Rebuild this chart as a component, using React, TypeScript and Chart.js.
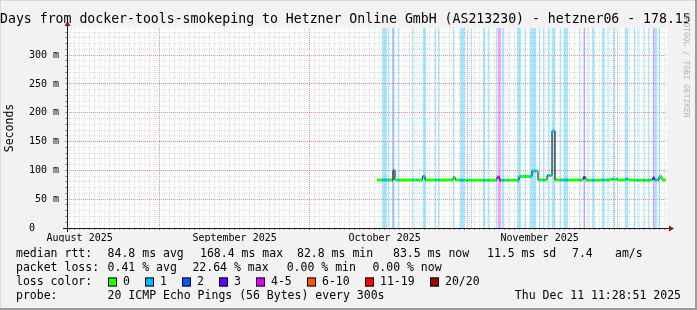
import React, { useEffect, useRef } from 'react';
import { Chart, registerables } from 'chart.js';

Chart.register(...registerables);

// ---------- data ----------
// x values are days since 2025-08-01 00:00 (graph spans 120 days ending Thu Dec 11 11:28:51 2025)
const X_MIN = 12.48;
const X_MAX = 132.48;
const Y_MAX = 347; // milliseconds

const monthStartDays = [31, 61, 92, 122];
const monthLabelDays = [15, 46, 76, 107];
const monthLabels = ['August 2025', 'September 2025', 'October 2025', 'November 2025'];

const yLabelValues = [0, 50, 100, 150, 200, 250, 300];
const yLabels = ['0', '50 m', '100 m', '150 m', '200 m', '250 m', '300 m'];

// median rtt, step series: value holds from the given day until the next one (ms)
const medianDays = [74.48, 77.68, 78.08, 83.58, 84.08, 89.68, 90.18, 91.08, 98.48, 98.98, 102.88, 105.48, 106.68, 108.48, 109.48, 110.08, 115.68, 116.28, 118.88, 121.08, 122.68, 124.08, 124.88, 126.08, 128.98, 129.58, 129.98, 130.88, 131.48];
const medianValues = [83.4, 99.5, 83.3, 89.5, 83.3, 87.0, 83.3, 82.9, 88.5, 83.0, 89.5, 99.0, 83.3, 91.0, 168.4, 83.3, 87.5, 82.9, 83.3, 84.6, 83.3, 84.6, 83.3, 82.9, 83.3, 86.5, 83.3, 89.0, 83.5];
const medianEndDay = 132.28;

// packet loss events: start day, end day, loss colour class
const lossStart = [75.48, 76.68, 77.48, 78.58, 81.48, 82.38, 83.58, 86.08, 86.68, 89.58, 91.08, 92.38, 93.28, 95.68, 96.58, 98.28, 98.58, 99.48, 100.58, 102.48, 104.08, 105.08, 106.88, 107.68, 108.58, 109.38, 111.08, 111.78, 114.94, 115.74, 116.54, 117.48, 119.42, 120.54, 121.62, 122.42, 124.08, 125.88, 126.54, 127.74, 128.62, 129.62, 130.02, 130.74];
const lossEnd = [76.48, 76.88, 77.98, 78.88, 81.78, 82.58, 84.28, 86.38, 86.98, 89.88, 91.88, 92.68, 93.48, 96.08, 96.88, 98.58, 99.28, 99.88, 100.78, 103.28, 104.28, 106.38, 107.08, 107.98, 108.98, 110.18, 111.38, 112.68, 115.22, 116.14, 116.82, 118.02, 120.02, 120.82, 121.88, 122.68, 124.74, 126.08, 126.82, 128.02, 128.94, 130.02, 130.54, 131.08];
const lossClass = [1, 1, 2, 1, 1, 1, 1, 1, 1, 1, 1, 1, 1, 1, 1, 1, 4, 1, 1, 1, 1, 1, 1, 1, 1, 1, 1, 1, 1, 3, 1, 1, 1, 1, 1, 1, 1, 1, 1, 1, 1, 3, 1, 1];

const lossColors = ['#26ff00', '#00b8ff', '#0059ff', '#5e00ff', '#dd00ff', '#ff5500', '#ff0000', '#a10000'];
const lossLabels = ['0', '1', '2', '3', '4-5', '6-10', '11-19', '20/20'];

const TITLE = 'Days from docker-tools-smokeping to Hetzner Online GmbH (AS213230) - hetzner06 - 178.15';
const rttStats = ['84.8 ms avg', '168.4 ms max', '82.8 ms min', '83.5 ms now', '11.5 ms sd', '7.4', 'am/s'];
const lossStats = ['0.41 % avg', '22.64 % max', '0.00 % min', '0.00 % now'];
const PROBE = '20 ICMP Echo Pings (56 Bytes) every 300s';
const STAMP = 'Thu Dec 11 11:28:51 2025';
const WATERMARK = 'RRDTOOL / TOBI OETIKER';

// ---------- layout / style ----------
const W = 697;
const H = 310;
const FONT = "'DejaVu Sans Mono', monospace";
const GRID_MINOR = 'rgba(150,150,150,0.28)';
const GRID_MAJOR = 'rgba(235,40,40,0.5)';

function withAlpha(hex: string, a: number) {
  const n = parseInt(hex.slice(1), 16);
  return `rgba(${(n >> 16) & 255},${(n >> 8) & 255},${n & 255},${a})`;
}

function medianAt(d: number) {
  let v = medianValues[0];
  for (let i = 0; i < medianDays.length; i++) if (medianDays[i] <= d) v = medianValues[i];
  return v;
}
function lossAt(d: number) {
  for (let i = 0; i < lossStart.length; i++) if (lossStart[i] <= d && d < lossEnd[i]) return lossClass[i];
  return 0;
}

const rrdPlugin = {
  id: 'rrdframe',
  beforeDraw(chart: any) {
    const { ctx, chartArea: a } = chart;
    ctx.save();
    ctx.fillStyle = '#f2f2f2';
    ctx.fillRect(0, 0, W, H);
    ctx.fillStyle = '#dadada';
    ctx.fillRect(0, 0, W, 1);
    ctx.fillRect(0, 0, 1, H);
    ctx.fillStyle = '#9c9c9c';
    ctx.fillRect(0, H - 2, W, 2);
    ctx.fillRect(W - 2, 0, 2, H);
    ctx.fillStyle = '#ffffff';
    ctx.fillRect(a.left, a.top, a.right - a.left, a.bottom - a.top);
    ctx.restore();
  },
  afterDraw(chart: any) {
    const { ctx, chartArea: a } = chart;
    ctx.save();
    // axes
    ctx.strokeStyle = '#1a1a1a';
    ctx.lineWidth = 1;
    ctx.beginPath();
    ctx.moveTo(a.left - 4, a.bottom + 0.5);
    ctx.lineTo(a.right + 4, a.bottom + 0.5);
    ctx.moveTo(a.left + 0.5, a.bottom + 4);
    ctx.lineTo(a.left + 0.5, a.top - 4);
    ctx.stroke();
    ctx.fillStyle = '#8b1a1a';
    ctx.beginPath();
    ctx.moveTo(a.right + 2, a.bottom + 0.5 - 3);
    ctx.lineTo(a.right + 2, a.bottom + 0.5 + 3);
    ctx.lineTo(a.right + 7, a.bottom + 0.5);
    ctx.closePath();
    ctx.fill();
    ctx.beginPath();
    ctx.moveTo(a.left + 0.5 - 3, a.top - 2);
    ctx.lineTo(a.left + 0.5 + 3, a.top - 2);
    ctx.lineTo(a.left + 0.5, a.top - 7);
    ctx.closePath();
    ctx.fill();

    // title
    ctx.fillStyle = '#000';
    ctx.textBaseline = 'middle';
    ctx.textAlign = 'left';
    ctx.font = `13.2px ${FONT}`;
    ctx.fillText(TITLE, 0, 20);

    // vertical axis label
    ctx.font = `11.5px ${FONT}`;
    ctx.save();
    ctx.translate(10.5, 128);
    ctx.rotate(-Math.PI / 2);
    ctx.textAlign = 'center';
    ctx.fillText('Seconds', 0, 0);
    ctx.restore();

    // legend
    const r1 = 254.5, r2 = 268, r3 = 282, r4 = 296.5;
    ctx.fillText('median rtt:', 16, r1);
    const rttX = [107.6, 200, 297, 393, 487, 572, 615];
    rttStats.forEach((s, i) => ctx.fillText(s, rttX[i], r1));
    ctx.fillText('packet loss:', 16, r2);
    const lossX = [107.6, 192.4, 286.7, 372.4];
    lossStats.forEach((s, i) => ctx.fillText(s, lossX[i], r2));
    ctx.fillText('loss color:', 16, r3);
    const boxX = [108, 145, 182, 219, 256, 307, 365, 430];
    lossLabels.forEach((s, i) => {
      ctx.fillStyle = lossColors[i];
      ctx.fillRect(boxX[i], r3 - 4.5, 9, 9);
      ctx.strokeStyle = '#000';
      ctx.strokeRect(boxX[i] + 0.5, r3 - 4, 8, 8);
      ctx.fillStyle = '#000';
      ctx.fillText(s, boxX[i] + 15, r3);
    });
    ctx.fillText('probe:', 16, r4);
    ctx.fillText(PROBE, 107.6, r4);
    ctx.textAlign = 'right';
    ctx.fillText(STAMP, 681, r4);

    // side text
    ctx.save();
    ctx.font = `7.9px ${FONT}`;
    ctx.fillStyle = '#b0b0b0';
    ctx.translate(686, 13);
    ctx.rotate(Math.PI / 2);
    ctx.textAlign = 'left';
    ctx.fillText(WATERMARK, 0, 0);
    ctx.restore();
    ctx.restore();
  },
};

export default function App() {
  const ref = useRef<HTMLCanvasElement>(null);

  useEffect(() => {
    document.body.style.margin = '0';
    const canvas = ref.current!;

    // median band split by loss colour
    const bps = Array.from(
      new Set([...medianDays, medianEndDay, ...lossStart, ...lossEnd].filter((d) => d >= medianDays[0] && d <= medianEndDay))
    ).sort((p, q) => p - q);
    const pieces: { a: number; b: number; v: number; c: string }[] = [];
    for (let i = 0; i < bps.length - 1; i++) {
      const a = bps[i], b = bps[i + 1];
      const m = (a + b) / 2;
      const v = medianAt(m);
      const c = lossColors[lossAt(m)];
      const last = pieces[pieces.length - 1];
      if (last && last.v === v && last.c === c && last.b === a) last.b = b;
      else pieces.push({ a, b, v, c });
    }
    const bandPts: any[] = [];
    const bandCols: string[] = [];
    pieces.forEach((p) => {
      bandPts.push({ x: p.a, y: p.v }, { x: p.b, y: p.v }, { x: p.b, y: null });
      bandCols.push(p.c, p.c, p.c);
    });

    const blackPts = medianDays.map((d, i) => ({ x: d, y: medianValues[i] }));
    blackPts.push({ x: medianEndDay, y: medianValues[medianValues.length - 1] });

    const stripeSets = lossStart.map((s, i) => ({
      type: 'line' as const,
      data: [
        { x: s, y: Y_MAX },
        { x: lossEnd[i], y: Y_MAX },
      ],
      fill: 'origin',
      backgroundColor: withAlpha(lossColors[lossClass[i]], 0.33),
      borderColor: 'transparent',
      borderWidth: 0,
      pointRadius: 0,
      order: 3,
    }));

    const xTicks: number[] = [];
    for (let d = Math.ceil(X_MIN); d <= Math.floor(X_MAX); d++) xTicks.push(d);
    const yTicks: number[] = [];
    for (let v = 0; v < Y_MAX; v += 10) yTicks.push(v);

    const chart = new Chart(canvas, {
      type: 'line',
      data: {
        datasets: [
          {
            data: bandPts,
            borderColor: lossColors[0],
            borderWidth: 3,
            pointRadius: 0,
            fill: false,
            spanGaps: false,
            segment: { borderColor: (c: any) => bandCols[c.p0DataIndex] },
            order: 0,
          } as any,
          {
            data: blackPts,
            borderColor: '#000',
            borderWidth: 1,
            pointRadius: 0,
            fill: false,
            stepped: true,
            order: 1,
          },
          ...stripeSets,
        ],
      },
      options: {
        responsive: false,
        animation: false,
        devicePixelRatio: 1,
        events: [],
        layout: { padding: { left: 0, right: 30, top: 28, bottom: 68 } },
        plugins: { legend: { display: false }, tooltip: { enabled: false }, title: { display: false } },
        scales: {
          x: {
            type: 'linear',
            min: X_MIN,
            max: X_MAX,
            afterBuildTicks: (s: any) => {
              s.ticks = xTicks.map((value) => ({ value }));
            },
            afterFit: (s: any) => {
              s.height = 14;
            },
            grid: {
              color: (c: any) => (monthStartDays.includes(c.tick?.value) ? GRID_MAJOR : GRID_MINOR),
              tickColor: (c: any) => (monthStartDays.includes(c.tick?.value) ? 'rgba(200,30,30,0.8)' : 'rgba(90,90,90,0.6)'),
              tickLength: 2,
              lineWidth: 1,
              tickBorderDash: [],
            },
            border: { display: false, dash: [1, 1] },
            ticks: {
              autoSkip: false,
              maxRotation: 0,
              minRotation: 0,
              padding: 2,
              color: '#000',
              font: { family: FONT, size: 10 },
              callback: (v: any) => {
                const i = monthLabelDays.indexOf(Number(v));
                return i >= 0 ? monthLabels[i] : '';
              },
            },
          },
          y: {
            type: 'linear',
            min: 0,
            max: Y_MAX,
            afterBuildTicks: (s: any) => {
              s.ticks = yTicks.map((value) => ({ value }));
            },
            afterFit: (s: any) => {
              s.width = 67;
            },
            grid: {
              color: (c: any) => (c.tick && c.tick.value > 0 && c.tick.value % 50 === 0 ? GRID_MAJOR : GRID_MINOR),
              tickColor: 'rgba(90,90,90,0.6)',
              tickLength: 2,
              lineWidth: 1,
              tickBorderDash: [],
            },
            border: { display: false, dash: [1, 1] },
            ticks: {
              autoSkip: false,
              padding: 6,
              color: '#000',
              font: { family: FONT, size: 10 },
              callback: (v: any) => {
                const i = yLabelValues.indexOf(Number(v));
                if (i < 0) return '';
                return i === 0 ? yLabels[i] + '    ' : yLabels[i];
              },
            },
          },
        },
      },
      plugins: [rrdPlugin],
    });

    return () => chart.destroy();
  }, []);

  return <canvas ref={ref} width={W} height={H} style={{ display: 'block', width: W, height: H }} />;
}
